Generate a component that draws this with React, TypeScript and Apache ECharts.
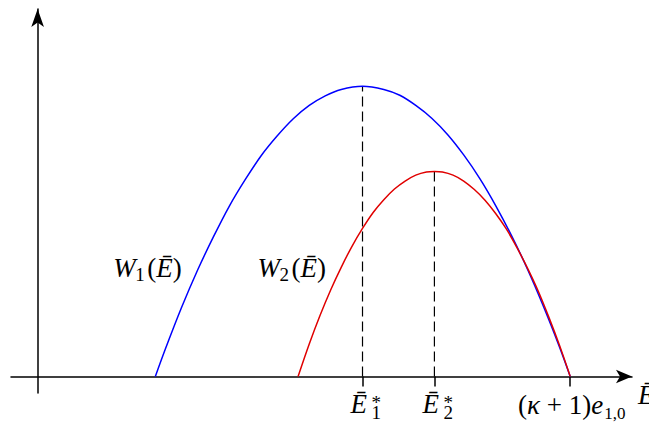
import React, { useEffect, useRef } from "react";
import * as echarts from "echarts";

// Characteristic points on the Ē axis
const E1_STAR = 6.1;
const E2_STAR = 7.45;
const E_MAX = 10; // (κ + 1) e_{1,0}

// W1(Ē): sampled along the blue curve
const w1E = [2.21, 2.4, 2.7, 3.0, 3.3, 3.6, 3.9, 4.2, 4.5, 4.8, 5.1, 5.4, 5.7, 6.1, 6.5, 6.8, 7.1, 7.4, 7.7, 8.0, 8.3, 8.6, 8.9, 9.2, 9.5, 9.8, 10.0];
const w1V = [0, 0.52, 1.29, 1.99, 2.62, 3.2, 3.7, 4.15, 4.52, 4.84, 5.09, 5.27, 5.39, 5.45, 5.39, 5.28, 5.09, 4.85, 4.54, 4.16, 3.72, 3.21, 2.64, 2.01, 1.31, 0.55, 0];

// W2(Ē): sampled along the red curve
const w2E = [4.89, 5.1, 5.3, 5.5, 5.7, 5.9, 6.1, 6.3, 6.5, 6.7, 6.9, 7.1, 7.3, 7.45, 7.6, 7.8, 8.0, 8.2, 8.4, 8.6, 8.8, 9.0, 9.2, 9.4, 9.6, 9.8, 10.0];
const w2V = [0, 0.61, 1.14, 1.62, 2.05, 2.44, 2.78, 3.08, 3.32, 3.52, 3.67, 3.78, 3.84, 3.85, 3.84, 3.78, 3.67, 3.51, 3.31, 3.06, 2.77, 2.42, 2.03, 1.6, 1.11, 0.58, 0];

const W1_PEAK = w1V[w1E.indexOf(E1_STAR)];
const W2_PEAK = w2V[w2E.indexOf(E2_STAR)];

const tickValues = [E1_STAR, E2_STAR, E_MAX];

// Curve label anchors (data coordinates)
const w1LabelAt = [1.42, 1.87];
const w2LabelAt = [4.13, 1.87];

const SERIF = "Liberation Serif";
const FS = 27; // main math text
const FS_SUB = 19; // sub- and superscripts
const FS_SUB_SMALL = 17; // two-index subscript

function txt(
  text: string,
  x: number,
  baseline: number,
  size: number,
  italic: boolean,
  align: string = "left"
) {
  return {
    type: "text",
    silent: true,
    style: {
      text,
      x,
      y: baseline - 0.34 * size,
      fontFamily: SERIF,
      fontSize: size,
      fontStyle: italic ? "italic" : "normal",
      fill: "#000",
      align,
      textAlign: align,
      verticalAlign: "middle",
      textVerticalAlign: "middle",
    },
  };
}

function richTxt(text: string, x: number, baseline: number, size: number, align: string = "left") {
  return {
    type: "text",
    silent: true,
    style: {
      text,
      x,
      y: baseline - 0.34 * size,
      fill: "#000",
      align,
      textAlign: align,
      verticalAlign: "middle",
      textVerticalAlign: "middle",
      fontFamily: SERIF,
      fontSize: size,
      rich: {
        n: { fontFamily: SERIF, fontSize: size, fontStyle: "normal", fill: "#000" },
        i: { fontFamily: SERIF, fontSize: size, fontStyle: "italic", fill: "#000" },
      },
    },
  };
}

export default function App() {
  const ref = useRef<HTMLDivElement>(null);

  useEffect(() => {
    if (!ref.current) return;
    const chart = echarts.init(ref.current, null, { renderer: "svg" });

    const dashed = { type: [10, 5], color: "#000", width: 1.2 };

    chart.setOption({
      animation: false,
      backgroundColor: "#fff",
      grid: { left: 11, right: 17, top: 9, bottom: 35 },
      xAxis: {
        type: "value",
        min: -0.5,
        max: 11.16,
        axisLine: {
          show: true,
          onZero: true,
          symbol: ["none", "arrow"],
          symbolSize: [10, 16],
          lineStyle: { color: "#000", width: 1.5 },
        },
        axisTick: {
          show: true,
          inside: false,
          length: 10,
          customValues: tickValues,
          lineStyle: { color: "#000", width: 1.5 },
        },
        axisLabel: { show: false },
        splitLine: { show: false },
      },
      yAxis: {
        type: "value",
        min: -0.31,
        max: 6.9,
        axisLine: {
          show: true,
          onZero: true,
          symbol: ["none", "arrow"],
          symbolSize: [9.5, 18],
          lineStyle: { color: "#000", width: 1.5 },
        },
        axisTick: { show: false },
        axisLabel: { show: false },
        splitLine: { show: false },
      },
      series: [
        {
          type: "line",
          data: [
            [E1_STAR, 0],
            [E1_STAR, W1_PEAK],
          ],
          showSymbol: false,
          silent: true,
          lineStyle: dashed,
          z: 1,
        },
        {
          type: "line",
          data: [
            [E2_STAR, 0],
            [E2_STAR, W2_PEAK],
          ],
          showSymbol: false,
          silent: true,
          lineStyle: dashed,
          z: 1,
        },
        {
          name: "W1",
          type: "line",
          data: w1E.map((e, i) => [e, w1V[i]]),
          smooth: 0.3,
          showSymbol: false,
          silent: true,
          lineStyle: { color: "#0000ff", width: 1.5 },
          z: 3,
        },
        {
          name: "W2",
          type: "line",
          data: w2E.map((e, i) => [e, w2V[i]]),
          smooth: 0.3,
          showSymbol: false,
          silent: true,
          lineStyle: { color: "#e00000", width: 1.5 },
          z: 4,
        },
      ],
    });

    const px = (x: number, y: number) =>
      chart.convertToPixel({ gridIndex: 0 }, [x, y]) as number[];

    const elements: any[] = [];

    // Ē*_k tick labels
    [
      [E1_STAR, "1"],
      [E2_STAR, "2"],
    ].forEach(([v, k]) => {
      const [cx, cy] = px(v as number, 0);
      elements.push(txt("Ē", cx - 12, cy + 36.5, FS, true));
      elements.push(txt(k as string, cx + 9, cy + 42, FS_SUB, false));
      elements.push(txt("*", cx + 9, cy + 32.5, FS_SUB, false));
    });

    // (κ + 1)e_{1,0}
    {
      const [cx, cy] = px(E_MAX, 0);
      elements.push(richTxt("{n|(}{i|κ}{n| + 1)}{i|e}", cx + 33, cy + 37.5, FS, "right"));
      elements.push(txt("1,0", cx + 34, cy + 43, FS_SUB_SMALL, false));
    }

    // Axis name Ē at the arrow
    {
      const [cx, cy] = px(11.16, 0);
      elements.push(txt("Ē", cx + 6, cy + 28, FS, true));
    }

    // Curve labels W_k(Ē)
    [
      [w1LabelAt, "1"],
      [w2LabelAt, "2"],
    ].forEach(([at, k]) => {
      const [x0, b] = px((at as number[])[0], (at as number[])[1]);
      elements.push(txt("W", x0, b, FS, true));
      elements.push(txt(k as string, x0 + 22, b + 4, FS_SUB, false));
      elements.push(richTxt("{n|(}{i|Ē}{n|)}", x0 + 34, b, FS));
    });

    chart.setOption({ graphic: elements });

    return () => chart.dispose();
  }, []);

  return (
    <div
      ref={ref}
      style={{ position: "absolute", left: 0, top: 0, width: 649, height: 428, background: "#fff" }}
    />
  );
}
